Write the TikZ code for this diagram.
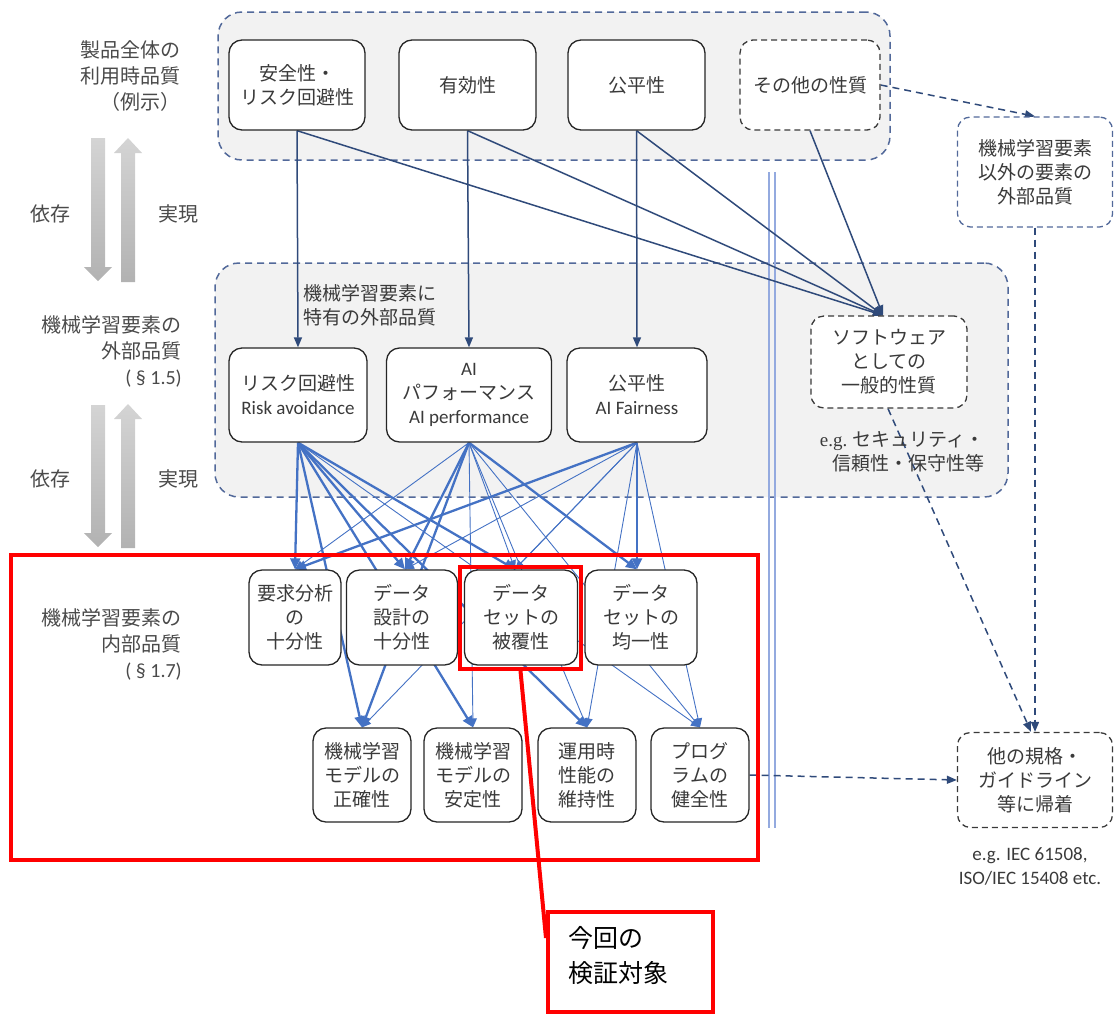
\documentclass[tikz,border=0pt]{standalone}
\usepackage{fontspec}
\setmainfont{Noto Sans CJK JP}
\newfontfamily\latinfont{Carlito}
\newfontfamily\egfont{Liberation Serif}
\usetikzlibrary{arrows.meta,calc}
\pgfdeclarelayer{back}
\pgfdeclarelayer{edges}
\pgfdeclarelayer{front}
\pgfsetlayers{back,edges,main,front}

\definecolor{navy}{HTML}{2F4A7A}
\definecolor{grpline}{HTML}{52699A}
\definecolor{grpfill}{HTML}{F2F2F2}
\definecolor{edgeblue}{HTML}{4472C4}
\definecolor{dblue}{HTML}{94AADF}
\definecolor{boxline}{HTML}{262626}
\definecolor{dashline}{HTML}{3A3A3A}
\definecolor{txt}{HTML}{3A3A3A}
\definecolor{lbltxt}{HTML}{4A4A4A}
\definecolor{callred}{HTML}{FF0000}
\definecolor{arrtop}{HTML}{D4D4D4}
\definecolor{arrbot}{HTML}{B2B2B2}

\tikzset{
  jp/.style={font=\fontsize{19}{24}\selectfont, text=txt},
  qbox/.style={jp, draw=boxline, line width=1.3pt, fill=white, rounded corners=13pt, align=center, inner sep=0pt},
  dqbox/.style={qbox, draw=dashline, dash pattern=on 6pt off 4pt},
  grp/.style={draw=grpline, fill=grpfill, line width=1.5pt, dash pattern=on 7pt off 5pt, rounded corners=24pt, inner sep=0pt},
  lbl/.style={font=\fontsize{20}{26}\selectfont, text=lbltxt, inner sep=0pt},
  navyarr/.style={draw=navy, line width=1.5pt, -{Triangle[length=10pt,width=8pt]}},
  navydash/.style={navyarr, dash pattern=on 7pt off 5pt},
  thk/.style={draw=edgeblue, line width=2.3pt, -{Triangle[length=11pt,width=10pt]}},
  thn/.style={draw=edgeblue, line width=0.9pt, -{Triangle[length=9pt,width=8pt]}},
  redbox/.style={draw=callred, line width=4pt, inner sep=0pt},
  grayarrow/.style={top color=arrtop, bottom color=arrbot, draw=none},
}

\begin{document}
\begin{tikzpicture}[x=1pt,y=-1pt]
\useasboundingbox (0,0) rectangle (1115,1015);

% ---- grouping panels ----
\begin{pgfonlayer}{back}
  \node[grp, minimum width=672pt, minimum height=148pt] (gtop) at (554,86) {};
  \node[grp, minimum width=793pt, minimum height=234pt] (gmid) at (611.5,380) {};
  % separator between ML elements and the rest
  \coordinate (sepa) at (769,172);
  \coordinate (sepb) at (769,828);
  \draw[dblue, line width=2pt] (sepa) -- (sepb);
  \draw[dblue, line width=2pt] ([xshift=6pt]sepa) -- ([xshift=6pt]sepb);
\end{pgfonlayer}

% ---- dependency / realisation arrows on the left ----
\shade[grayarrow] (91,138) -- (105,138) -- (105,267) -- (112,267) -- (98,281) -- (84,267) -- (91,267) -- cycle;
\shade[grayarrow] (128,138) -- (142,153) -- (135,153) -- (135,282) -- (121,282) -- (121,153) -- (114,153) -- cycle;
\shade[grayarrow] (91,405) -- (105,405) -- (105,533) -- (112,533) -- (98,547) -- (84,533) -- (91,533) -- cycle;
\shade[grayarrow] (128,404) -- (142,419) -- (135,419) -- (135,548) -- (121,548) -- (121,419) -- (114,419) -- cycle;
\node[lbl] (dep1) at (50,214) {依存};
\node[lbl] (rea1) at (178,214) {実現};
\node[lbl] (dep2) at (50,479) {依存};
\node[lbl] (rea2) at (178,479) {実現};

% ---- level labels ----
\node[lbl, align=right, anchor=east] (lv1) at (181,76) {製品全体の\\利用時品質\\（例示）};
\node[lbl, align=right, anchor=east] (lv2) at (182,351) {機械学習要素の\\外部品質\\{\latinfont ( § 1.5)}};
\node[lbl, align=right, anchor=east] (lv3) at (182,644) {機械学習要素の\\内部品質\\{\latinfont ( § 1.7)}};

% ---- quality in use ----
\node[qbox, minimum width=136pt, minimum height=90pt] (s1) at (297,85) {安全性・\\リスク回避性};
\node[qbox, minimum width=137pt, minimum height=90pt] (s2) at (467.5,85) {有効性};
\node[qbox, minimum width=137pt, minimum height=90pt] (s3) at (636.5,85) {公平性};
\node[dqbox, minimum width=140pt, minimum height=90pt] (s4) at (810,85) {その他の性質};

% ---- external quality of ML elements ----
\node[jp, align=left, anchor=west, inner sep=0pt] (spec) at (303,305) {機械学習要素に\\特有の外部品質};
\node[qbox, minimum width=138pt, minimum height=94pt] (ra) at (298,395) {リスク回避性\\{\latinfont Risk avoidance}};
\node[qbox, minimum width=165pt, minimum height=94pt] (ap) at (469,395) {{\latinfont AI}\\パフォーマンス\\{\latinfont AI performance}};
\node[qbox, minimum width=140pt, minimum height=94pt] (af) at (637,395) {公平性\\{\latinfont AI Fairness}};
\node[dqbox, minimum width=156pt, minimum height=92pt] (sw) at (889,362) {ソフトウェア\\としての\\一般的性質};
\node[jp, align=right, anchor=east, inner sep=0pt] (swex) at (985,452) {{\egfont e.g.} セキュリティ・\\信頼性・保守性等};

% ---- other external quality ----
\node[dqbox, draw=grpline, minimum width=155pt, minimum height=110pt] (ext) at (1035,172) {機械学習要素\\以外の要素の\\外部品質};
\node[dqbox, minimum width=155pt, minimum height=95pt] (oth) at (1035,780) {他の規格・\\ガイドライン\\等に帰着};
\node[jp, align=center, inner sep=0pt, font=\latinfont\fontsize{19}{24}\selectfont] (std) at (1030,866) {e.g. IEC 61508,\\ISO/IEC 15408 etc.};

% ---- internal quality of ML elements ----
\node[qbox, minimum width=92pt, minimum height=95pt] (r1) at (295,617.5) {要求分析\\の\\十分性};
\node[qbox, minimum width=111pt, minimum height=95pt] (r2) at (402,617.5) {データ\\設計の\\十分性};
\node[qbox, minimum width=113pt, minimum height=95pt] (r3) at (521,617.5) {データ\\セットの\\被覆性};
\node[qbox, minimum width=112pt, minimum height=95pt] (r4) at (641,617.5) {データ\\セットの\\均一性};
\node[qbox, minimum width=98pt, minimum height=94pt] (q1) at (362,775) {機械学習\\モデルの\\正確性};
\node[qbox, minimum width=98pt, minimum height=94pt] (q2) at (473,775) {機械学習\\モデルの\\安定性};
\node[qbox, minimum width=98pt, minimum height=94pt] (q3) at (587,775) {運用時\\性能の\\維持性};
\node[qbox, minimum width=98pt, minimum height=94pt] (q4) at (700,775) {プログ\\ラムの\\健全性};

% ---- connectors ----
\begin{pgfonlayer}{edges}
  \coordinate (swin) at ([xshift=-6pt]sw.north);
  \draw[navyarr] (s1.south) -- (ra.north);
  \draw[navyarr] (s2.south) -- (ap.north);
  \draw[navyarr] (s3.south) -- (af.north);
  \draw[navyarr] (s1.south) -- (swin);
  \draw[navyarr] (s2.south) -- (swin);
  \draw[navyarr] (s3.south) -- (swin);
  \draw[navyarr] (s4.south) -- (swin);
  \draw[navydash] (s4.east) -- (ext.north);
  \draw[navydash] (ext.south) -- (oth.north);
  \draw[navydash] ([xshift=-1pt]sw.south) -- ([xshift=-4pt]oth.north);
  \draw[navydash] (q4.east) -- (oth.west);

  % risk avoidance
  \draw[thk] (ra.south) -- (r1.north);
  \draw[thk] (ra.south) -- ([xshift=3pt]r2.north);
  \draw[thk] (ra.south) -- ([xshift=-6pt]r3.north);
  \draw[thk] (ra.south) -- (q1.north);
  \draw[thk] (ra.south) -- (q2.north);
  \draw[thk] (ra.south) -- (q3.north);
  \draw[thn] (ra.south) -- (q4.north);
  % AI performance
  \draw[thn] (ap.south) -- (r1.north);
  \draw[thk] (ap.south) -- ([xshift=3pt]r2.north);
  \draw[thn] (ap.south) -- ([xshift=-6pt]r3.north);
  \draw[thk] (ap.south) -- ([xshift=-4pt]r4.north);
  \draw[thk] (ap.south) -- (q1.north);
  \draw[thn] (ap.south) -- (q2.north);
  \draw[thn] (ap.south) -- (q3.north);
  \draw[thn] (ap.south) -- (q4.north);
  % AI fairness
  \draw[thk] (af.south) -- (r1.north);
  \draw[thn] (af.south) -- ([xshift=3pt]r2.north);
  \draw[thn] (af.south) -- ([xshift=-6pt]r3.north);
  \draw[thk] (af.south) -- ([xshift=-4pt]r4.north);
  \draw[thn] (af.south) -- (q1.north);
  \draw[thn] (af.south) -- (q3.north);
  \draw[thn] (af.south) -- (q4.north);
\end{pgfonlayer}

% ---- highlighted scope ----
\begin{pgfonlayer}{front}
  \node[redbox, minimum width=747pt, minimum height=305pt] (scope) at (384.5,707.5) {};
  \node[redbox, minimum width=121pt, minimum height=102pt] (covred) at (520.5,618) {};
  \node[redbox, fill=white, minimum width=165pt, minimum height=100pt] (cb) at (630.5,962) {};
  \node[anchor=west, inner sep=0pt, align=left, font=\fontsize{25}{35}\selectfont, text=black] (cbtext) at (568,955.5) {今回の\\検証対象};
  \draw[callred, line width=4pt] (covred.south) -- ([yshift=24pt]cb.west);
\end{pgfonlayer}
\end{tikzpicture}
\end{document}
